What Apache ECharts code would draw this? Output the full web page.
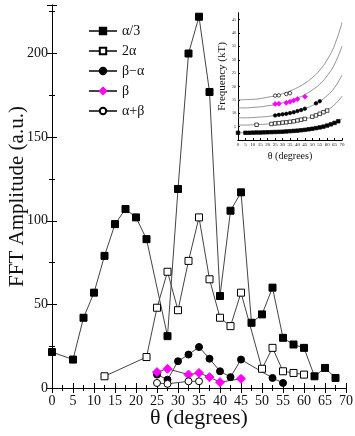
<!DOCTYPE html>
<html>
<head>
<meta charset="utf-8">
<script src="https://cdn.jsdelivr.net/npm/echarts@6/dist/echarts.min.js"></script>
<style>
  html, body { margin: 0; padding: 0; background: #fff; }
  #chart { width: 355px; height: 436px; }
</style>
</head>
<body>
<div id="chart"></div>
<script>
// 主图数据 (FFT amplitude vs angle)
const thetaA3 = [0, 5, 7.5, 10, 12.5, 15, 17.5, 20, 22.5, 27.5, 30, 32.5, 35, 37.5, 40, 42.5, 45, 47.5, 50, 52.5, 55, 57.5, 60, 62.5, 65, 67.5];
const ampA3 = [21.5, 17, 42, 57, 79, 98, 107, 102, 89, 31, 119, 200, 222, 177, 55, 106, 117, 39, 44, 60, 30, 26, 24, 7, 12, 6];

const theta2A = [12.5, 22.5, 25, 27.5, 30, 32.5, 35, 37.5, 40, 42.5, 45, 50, 52.5, 55, 57.5, 60];
const amp2A = [7, 18.5, 48, 69.5, 46.5, 76, 102, 65, 42, 37, 57, 11.5, 24, 10, 9, 8];

const thetaBmA = [25, 27.5, 30, 32.5, 35, 37.5, 40, 42.5, 45, 52.5, 55];
const ampBmA = [8, 5, 16, 20, 24.5, 17.5, 10, 6.5, 17, 6, 3];

const thetaB = [25, 27.5, 32.5, 35, 37.5, 40, 45];
const ampB = [9.5, 11.5, 8, 9, 6.5, 3.5, 5.5];

const thetaApB = [25, 27.5, 32.5, 35];
const ampApB = [3, 2.5, 4, 4];

// 插图数据 (frequency vs angle)
const thetaFA3 = [0, 5, 7.5, 10, 12.5, 15, 17.5, 20, 22.5, 25, 27.5, 30, 32.5, 35, 37.5, 40, 42.5, 45, 47.5, 50, 52.5, 55, 57.5, 60, 62.5, 65, 67.5];
const freqA3 = [2.7, 2.7, 2.7, 2.75, 2.8, 2.8, 2.85, 2.9, 2.95, 3.0, 3.05, 3.1, 3.2, 3.3, 3.4, 3.5, 3.65, 3.8, 4.0, 4.2, 4.45, 4.7, 5.0, 5.4, 5.85, 6.4, 7.0];
const freq2A = [5.7, 6.0, 6.2, 6.3, 6.5, 6.6, 6.8, 7.0, 7.3, 7.6, 7.9, 8.7, 9.2, 9.8, 10.4, 11.0];
const freqBmA = [9.2, 9.4, 9.6, 9.8, 10.1, 10.4, 10.8, 11.2, 11.7, 13.7, 14.5];
const freqB = [13.5, 13.6, 13.9, 14.3, 14.8, 15.3, 16.2];
const freqApB = [16.6, 16.7, 17.2, 17.5];

// 插图中的拟合曲线
const thetaFit = [0, 5, 10, 15, 20, 25, 30, 35, 40, 45, 50, 55, 60, 65, 70];
const fit1 = [15, 15.1, 15.2, 15.5, 16, 16.5, 17.3, 18.3, 19.6, 21.2, 23.3, 26.1, 30, 35.5, 43.9];
const fit2 = [12, 12, 12.2, 12.4, 12.8, 13.2, 13.9, 14.7, 15.7, 17, 18.7, 20.9, 24, 28.4, 35.1];
const fit3 = [8.3, 8.3, 8.4, 8.6, 8.8, 9.2, 9.6, 10.1, 10.8, 11.7, 12.9, 14.5, 16.6, 19.6, 24.3];
const fit4 = [5.6, 5.6, 5.7, 5.8, 6, 6.2, 6.5, 6.8, 7.3, 7.9, 8.7, 9.8, 11.2, 13.2, 16.4];
const fit5 = [2.7, 2.7, 2.7, 2.8, 2.9, 3.0, 3.1, 3.3, 3.5, 3.8, 4.2, 4.7, 5.4, 6.4, 7.9];

function pairs(xs, ys) {
  return xs.map((x, i) => [x, ys[i]]);
}

const FONT = "Liberation Serif";
const LINE = "#444";

let myChart = echarts.init(document.getElementById("chart"));

function tickAxis(extra) {
  return Object.assign({
    type: "value",
    nameMoveOverlap: false,
    axisLine: { show: true, lineStyle: { color: "#000", width: 1 } },
    axisTick: { show: true, inside: true, length: 5, lineStyle: { color: "#000" } },
    minorTick: { show: true, splitNumber: 2, length: 3, lineStyle: { color: "#000" } },
    splitLine: { show: false },
    axisLabel: { show: false }
  }, extra);
}

function mainSeries(name, data, symbol, fill, size) {
  return {
    name: name,
    type: "line",
    xAxisIndex: 0,
    yAxisIndex: 0,
    data: data,
    symbol: symbol,
    symbolSize: size,
    showAllSymbol: true,
    lineStyle: { color: LINE, width: 1 },
    itemStyle: { color: fill, borderColor: fill === "#fff" ? "#000" : fill, borderWidth: 1 },
    emphasis: { disabled: true },
    z: 3
  };
}

function insetSeries(name, data, symbol, fill, size) {
  return {
    name: name + "_i",
    type: "line",
    xAxisIndex: 2,
    yAxisIndex: 2,
    data: data,
    symbol: symbol,
    symbolSize: size,
    showAllSymbol: true,
    lineStyle: { width: 0 },
    itemStyle: { color: fill, borderColor: fill === "#fff" ? "#000" : fill, borderWidth: 0.7 },
    z: 4
  };
}

function fitSeries(data) {
  return {
    type: "line",
    xAxisIndex: 2,
    yAxisIndex: 2,
    data: data,
    smooth: true,
    symbol: "none",
    lineStyle: { color: "#777", width: 0.8 },
    z: 3
  };
}

let option = {
  animation: false,
  backgroundColor: "#fff",
  textStyle: { fontFamily: FONT },
  grid: [
    { left: 52, top: 5, width: 294, height: 383, outerBoundsMode: "none", containLabel: false },
    { left: 238, top: 13, width: 104, height: 127, outerBoundsMode: "none", containLabel: false }
  ],
  legend: {
    orient: "vertical",
    left: 83,
    top: 19,
    itemWidth: 28,
    itemHeight: 8,
    itemGap: 6,
    textStyle: { fontFamily: FONT, fontSize: 14, color: "#111" },
    data: ["α/3", "2α", "β−α", "β", "α+β"]
  },
  xAxis: [
    tickAxis({
      gridIndex: 0, min: 0, max: 70, interval: 5,
      axisLabel: { show: true, fontFamily: FONT, fontSize: 14, color: "#111", margin: 6 },
      name: "θ (degrees)", nameLocation: "middle", nameGap: 19,
      nameTextStyle: { fontFamily: FONT, fontSize: 22, color: "#111" }
    }),
    tickAxis({ gridIndex: 0, min: 0, max: 70, interval: 5, position: "top" }),
    tickAxis({
      gridIndex: 1, min: 0, max: 70, interval: 5,
      axisTick: { show: true, inside: true, length: 2, lineStyle: { color: "#000" } },
      minorTick: { show: false },
      axisLabel: { show: true, fontFamily: FONT, fontSize: 5, color: "#111", margin: 2 },
      name: "θ (degrees)", nameLocation: "middle", nameGap: 11,
      nameTextStyle: { fontFamily: FONT, fontSize: 10, color: "#111" }
    }),
    tickAxis({ gridIndex: 1, min: 0, max: 70, interval: 5, position: "top",
      axisTick: { show: false }, minorTick: { show: false } })
  ],
  yAxis: [
    tickAxis({
      gridIndex: 0, min: 0, max: 229, interval: 50,
      axisLabel: { show: true, fontFamily: FONT, fontSize: 14, color: "#111", margin: 4, showMaxLabel: false },
      name: "FFT Amplitude (a.u.)", nameLocation: "middle", nameGap: 24, nameRotate: 90,
      nameTextStyle: { fontFamily: FONT, fontSize: 21, color: "#111" }
    }),
    tickAxis({ gridIndex: 0, min: 0, max: 229, interval: 50, position: "right" }),
    tickAxis({
      gridIndex: 1, min: 0, max: 47.5, interval: 5,
      axisTick: { show: true, inside: true, length: 2, lineStyle: { color: "#000" } },
      minorTick: { show: false },
      axisLabel: { show: true, fontFamily: FONT, fontSize: 4, color: "#111", margin: 2,
        showMaxLabel: false, formatter: v => (v === 0 ? "" : v) },
      name: "Frequency (kT)", nameLocation: "middle", nameGap: 10, nameRotate: 90,
      nameTextStyle: { fontFamily: FONT, fontSize: 11, color: "#111" }
    }),
    tickAxis({ gridIndex: 1, min: 0, max: 47.5, interval: 5, position: "right",
      axisTick: { show: false }, minorTick: { show: false } })
  ],
  series: [
    mainSeries("α/3", pairs(thetaA3, ampA3), "rect", "#000", 7),
    mainSeries("2α", pairs(theta2A, amp2A), "rect", "#fff", 7),
    mainSeries("β−α", pairs(thetaBmA, ampBmA), "circle", "#000", 7),
    mainSeries("β", pairs(thetaB, ampB), "diamond", "#ff00ff", 9),
    mainSeries("α+β", pairs(thetaApB, ampApB), "circle", "#fff", 7),
    fitSeries(pairs(thetaFit, fit1)),
    fitSeries(pairs(thetaFit, fit2)),
    fitSeries(pairs(thetaFit, fit3)),
    fitSeries(pairs(thetaFit, fit4)),
    fitSeries(pairs(thetaFit, fit5)),
    insetSeries("α/3", pairs(thetaFA3, freqA3), "rect", "#000", 3.5),
    insetSeries("2α", pairs(theta2A, freq2A), "rect", "#fff", 3.5),
    insetSeries("β−α", pairs(thetaBmA, freqBmA), "circle", "#000", 3.5),
    insetSeries("β", pairs(thetaB, freqB), "diamond", "#ff00ff", 5),
    insetSeries("α+β", pairs(thetaApB, freqApB), "circle", "#fff", 3.5)
  ]
};

myChart.setOption(option);
window.onresize = myChart.resize;
</script>
</body>
</html>
